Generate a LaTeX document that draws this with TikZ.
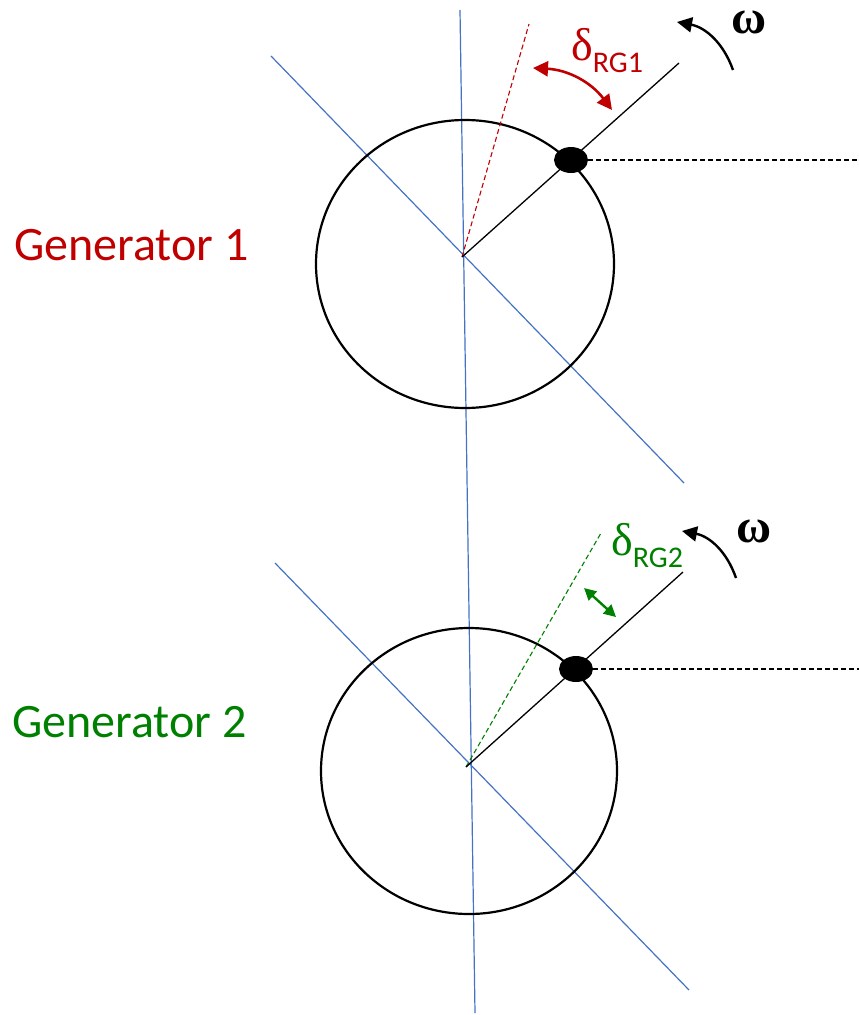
\documentclass[tikz,border=0pt]{standalone}
\usepackage{fontspec}
\setmainfont{Carlito}
\newfontfamily\symfont{Liberation Serif}
\usetikzlibrary{arrows.meta,shapes.geometric}
\definecolor{gred}{RGB}{192,0,0}
\definecolor{ggreen}{RGB}{0,128,0}
\definecolor{gblue}{RGB}{68,114,196}
\begin{document}
\begin{tikzpicture}[x=1pt,y=-1pt,
  axis/.style={gblue,line width=1.2pt},
  rotor/.style={black,line width=1.3pt},
  stator/.style={draw,ellipse,line width=2.2pt,inner sep=0pt},
  pole/.style={fill=black,ellipse,minimum width=34pt,minimum height=26pt,inner sep=0pt},
  refline/.style={line width=1.1pt,dash pattern=on 5pt off 3pt},
  genlabel/.style={anchor=base west,inner sep=0pt,font=\fontsize{48}{50}\selectfont},
  omegalabel/.style={anchor=base west,inner sep=0pt,font=\symfont\bfseries\fontsize{48}{48}\selectfont},
  deltalabel/.style={anchor=base west,inner sep=0pt,font=\symfont\fontsize{46}{46}\selectfont},
  rotarrow/.style={line width=2.4pt,-{Triangle[length=15pt,width=15pt]}},
  redarrow/.style={gred,line width=2.6pt,{Triangle[length=15pt,width=15pt]}-{Triangle[length=15pt,width=15pt]}},
  greenarrow/.style={ggreen,line width=2.4pt,{Triangle[length=12pt,width=12pt]}-{Triangle[length=12pt,width=12pt]}}
]
\useasboundingbox (0,0) rectangle (859,1015);

% blue axes
\coordinate (vtop) at (460,10);
\coordinate (vbot) at (475,1013);
\draw[axis] (vtop) -- (vbot);
\coordinate (a1s) at (271,56);
\coordinate (a1e) at (684,483);
\draw[axis] (a1s) -- (a1e);
\coordinate (a2s) at (275,563);
\coordinate (a2e) at (689,990);
\draw[axis] (a2s) -- (a2e);

% ---------------- Generator 1 ----------------
\node[stator,minimum width=298pt,minimum height=288pt] (g1) at (465,264) {};
\coordinate (o1) at (462,257);
\coordinate (e1) at (679,63);
\coordinate (ref1) at (529,24);
\coordinate (x1) at (859,160);
\draw[gred,refline] (o1) -- (ref1);
\draw[rotor] (o1) -- (e1);
\node[pole] (d1) at (571,160) {};
\draw[refline] (d1.east) -- (x1);
\coordinate (ra1) at (533,68);
\coordinate (rb1) at (612,110);
\draw[redarrow] (ra1) to[bend left=25] (rb1);
\node[deltalabel,text=gred] (dl1) at (571,60) {δ\raisebox{-12pt}{\rmfamily\fontsize{30}{30}\selectfont RG1}};
\coordinate (wt1) at (733,70);
\coordinate (wh1) at (677,22);
\draw[rotarrow] (wt1) to[bend right=30] (wh1);
\node[omegalabel] (w1) at (731,33) {ω};
\node[genlabel,text=gred] (l1) at (14,260) {Generator 1};

% ---------------- Generator 2 ----------------
\node[stator,minimum width=296pt,minimum height=286pt] (g2) at (469,771) {};
\coordinate (o2) at (466,767);
\coordinate (e2) at (683,572);
\coordinate (ref2) at (601,533);
\coordinate (x2) at (859,669);
\draw[ggreen,refline] (o2) -- (ref2);
\draw[rotor] (o2) -- (e2);
\node[pole] (d2) at (576,669) {};
\draw[refline] (d2.east) -- (x2);
\coordinate (ga2) at (584,588);
\coordinate (gb2) at (616,617);
\draw[greenarrow] (ga2) -- (gb2);
\node[deltalabel,text=ggreen] (dl2) at (611,555) {δ\raisebox{-12pt}{\rmfamily\fontsize{30}{30}\selectfont RG2}};
\coordinate (wt2) at (736,578);
\coordinate (wh2) at (682,531);
\draw[rotarrow] (wt2) to[bend right=30] (wh2);
\node[omegalabel] (w2) at (736,542) {ω};
\node[genlabel,text=ggreen] (l2) at (12,737) {Generator 2};
\end{tikzpicture}
\end{document}
